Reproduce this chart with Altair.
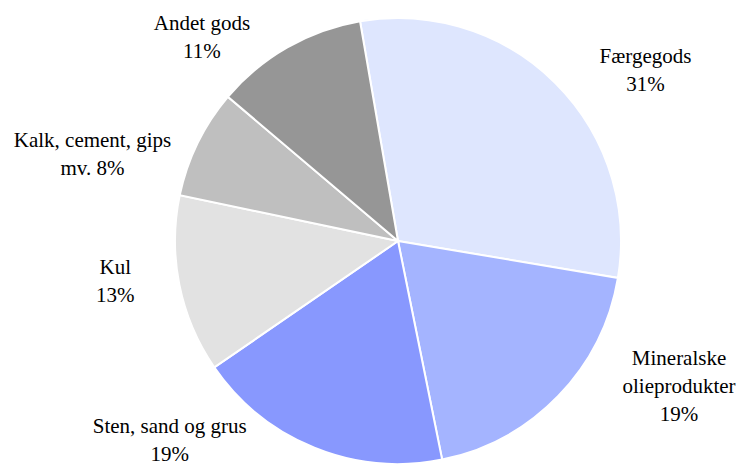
import math
import altair as alt
import pandas as pd

# ---- data ----
categories = ["Færgegods", "Mineralske olieprodukter", "Sten, sand og grus",
              "Kul", "Kalk, cement, gips mv.", "Andet gods"]
shares = [30.4, 19.2, 18.6, 12.9, 7.9, 11.1]
label_texts = ["Færgegods\n31%", "Mineralske\nolieprodukter\n19%",
               "Sten, sand og grus\n19%", "Kul\n13%",
               "Kalk, cement, gips\nmv. 8%", "Andet gods\n11%"]
palette = ["#DEE6FE", "#A4B4FF", "#8898FE", "#E2E2E2", "#BFBFBF", "#969696"]

df = pd.DataFrame({
    "category": categories,
    "share": shares,
    "label": label_texts,
    "idx": list(range(len(categories))),
})

total = sum(shares)
start = math.radians(-9.8)
theta_scale = alt.Scale(domain=[0, total], range=[start, start + 2 * math.pi])

base = alt.Chart(df)

arcs = base.mark_arc(radius=223, stroke="white", strokeWidth=2).encode(
    theta=alt.Theta("share:Q", stack=True, scale=theta_scale),
    color=alt.Color("category:N", scale=alt.Scale(domain=categories, range=palette), legend=None),
    order=alt.Order("idx:Q"),
)

# label placement nudges (layout, not data)
nudges = [(57, 7), (87, -70), (-127, -64), (-18, -26), (-63, 19), (-62, 17)]

label_base = base.transform_window(
    cum="sum(share)", sort=[alt.SortField("idx")], frame=[None, 0]
).transform_calculate(mid="datum.cum - datum.share / 2")

layers = [arcs]
for i, (dx, dy) in enumerate(nudges):
    layers.append(
        label_base.transform_filter(alt.datum.idx == i).mark_text(
            radius=270, dx=dx, dy=dy, lineBreak="\n",
            font="Liberation Serif, Times New Roman, serif",
            fontSize=21, lineHeight=28, align="center", baseline="middle", color="black",
        ).encode(
            theta=alt.Theta("mid:Q", stack=False, scale=theta_scale),
            text="label:N",
        )
    )

chart = alt.layer(*layers).properties(
    width=680, height=452,
    padding={"left": 50, "top": 7, "right": 0, "bottom": 0},
    autosize=alt.AutoSizeParams(type="none"),
).configure_view(stroke=None)

chart.save("out.html", embed_options={"renderer": "svg", "actions": False})
